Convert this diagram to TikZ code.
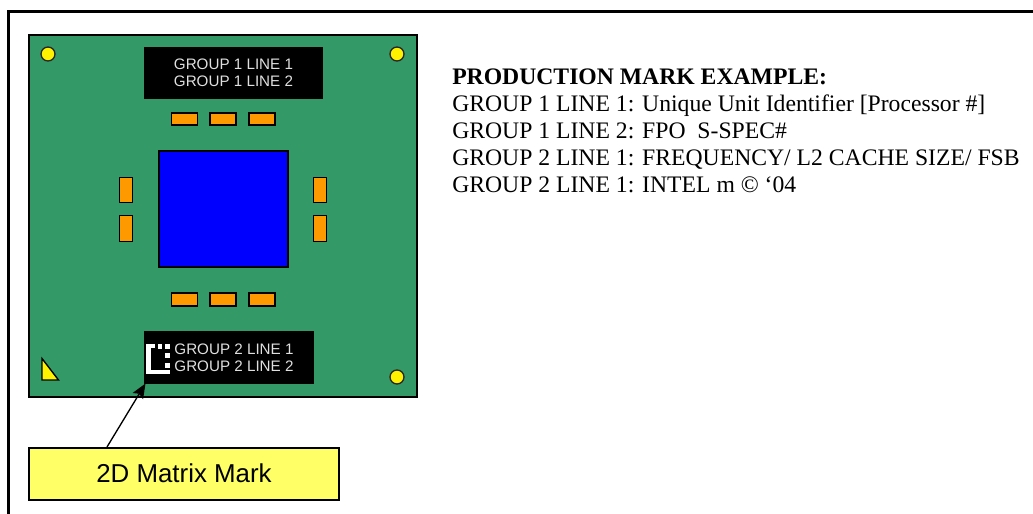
\documentclass[tikz,border=0pt]{standalone}
\usepackage{fontspec}
\setmainfont{Liberation Serif}
\newfontfamily\arialfont{Liberation Sans}
\usetikzlibrary{arrows.meta}
\definecolor{board}{RGB}{51,153,102}
\definecolor{pad}{RGB}{255,153,0}
\definecolor{die}{RGB}{0,0,255}
\definecolor{callout}{RGB}{255,255,102}
\tikzset{
  padbox/.style={draw=black, fill=pad, line width=1.3pt},
  hole/.style={circle, draw=black!85, fill=yellow, line width=1pt, minimum size=10.5pt, inner sep=0pt},
  marktext/.style={text=white!88!black, font=\arialfont\fontsize{11.4}{12.8}\selectfont, align=center, inner sep=0pt},
  listtext/.style={anchor=base west, inner sep=0pt, font=\fontsize{17.75}{20}\selectfont}
}
\begin{document}
\begin{tikzpicture}[x=0.75pt, y=-0.75pt]
  \useasboundingbox (0,0) rectangle (1033,514);

  %frame
  \draw[line width=1.7pt] (8.5,514) -- (8.5,11.5) -- (1033,11.5);

  %board
  \draw[fill=board, line width=1.3pt] (29,35) rectangle (417,397);
  \foreach \x/\y/\name in {48/54/h1,397/54/h2,397/377/h3}{
      \node[hole] (\name) at (\x,\y) {};
  }
  \draw[fill=yellow, line width=1pt] (42,358.5) -- (42,380) -- (58.5,380) -- cycle;

  %die
  \draw[fill=die, line width=1.5pt] (158.5,151) rectangle (287.5,267);

  %pads
  \foreach \x in {171.5,210,249}{
      \draw[padbox] (\x,113) rectangle (\x+26,125);
      \draw[padbox] (\x,293) rectangle (\x+26,306);
  }
  \foreach \x in {119.5,313.5}{
      \draw[padbox] (\x,177.5) rectangle (\x+13,202.5);
      \draw[padbox] (\x,215.5) rectangle (\x+13,241.5);
  }

  %marks
  \fill[black] (144,47) rectangle (323,99);
  \node[marktext] (mark1) at (233.5,73) {GROUP 1 LINE 1\\GROUP 1 LINE 2};
  \fill[black] (144,331) rectangle (314,384);
  \node[marktext] (mark2) at (234,358) {GROUP 2 LINE 1\\GROUP 2 LINE 2};

  %matrix
  \fill[white] (145.5,343.5) rectangle (150.5,373.5);
  \fill[white] (145.5,369.5) rectangle (169.5,373.5);
  \fill[white] (145.5,343.5) rectangle (155,348);
  \foreach \x/\y in {157.5/343.5,165/343.5,165/353,165/363}{
      \fill[white] (\x,\y) rectangle (\x+4.5,\y+5);
  }

  %callout
  \node[draw, fill=callout, line width=1.5pt, minimum width=233pt, minimum height=39pt, inner sep=0pt, font=\arialfont\fontsize{19.4}{20}\selectfont] (label) at (184,473.5) {2D Matrix Mark};
  \coordinate (tip) at (145.5,383.5);
  \coordinate (start) at (107,447);
  \draw[-{Stealth[length=11pt,width=9pt,inset=2pt]}, line width=1pt] (start) -- (tip);

  %text
  \node[listtext, font=\bfseries\fontsize{17.75}{20}\selectfont] (t0) at (452,84) {PRODUCTION MARK EXAMPLE:};
  \foreach \y/\txt/\name in {111/{GROUP 1 LINE 1: Unique Unit Identifier [Processor \#]}/t1,
                             138/{GROUP 1 LINE 2: FPO\ \ S-SPEC\#}/t2,
                             165/{GROUP 2 LINE 1: FREQUENCY/ L2 CACHE SIZE/ FSB}/t3,
                             192/{GROUP 2 LINE 1: INTEL m © ‘04}/t4}{
      \node[listtext] (\name) at (452,\y) {\txt};
  }
\end{tikzpicture}
\end{document}
